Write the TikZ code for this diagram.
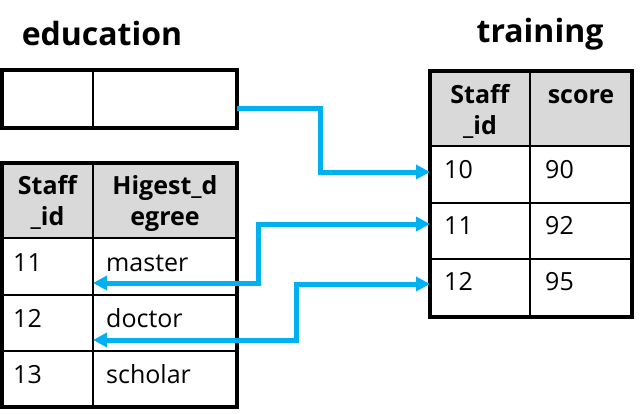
\documentclass[tikz,border=0pt]{standalone}
\usepackage{fontspec}
\setmainfont{Open Sans}
\usetikzlibrary{arrows.meta}
\definecolor{linkblue}{HTML}{00B0F0}
\definecolor{hdrgray}{HTML}{D9D9D9}
\tikzset{
  cell/.style={draw=black, line width=1.5pt, anchor=north west, inner sep=0pt, outer sep=0pt},
  headcell/.style={cell, fill=hdrgray},
  frame/.style={draw=black, line width=4pt},
  link/.style={draw=linkblue, line width=5pt},
  tipa/.style={-{Triangle[length=14pt,width=14pt]}},
  tipb/.style={{Triangle[length=14pt,width=14pt]}-{Triangle[length=14pt,width=14pt]}},
  title/.style={font=\bfseries\fontsize{32}{38}\selectfont, anchor=base, inner sep=0pt},
  hd/.style={font=\bfseries\fontsize{25}{31}\selectfont, align=center, anchor=north, inner sep=0pt},
  hdone/.style={font=\bfseries\fontsize{25}{31}\selectfont, anchor=base, inner sep=0pt},
  bd/.style={font=\fontsize{25}{31}\selectfont, anchor=base west, inner sep=0pt},
}
\begin{document}
\begin{tikzpicture}[x=1pt,y=-1pt]
\useasboundingbox (0,0) rectangle (643,413);
% titles
\node[title] (ttl1) at (102,45) {education};
\node[title] (ttl2) at (540,42) {training};
% education empty table
\node[cell, minimum width=91pt, minimum height=58pt] (ee1) at (2,70) {};
\node[cell, minimum width=144pt, minimum height=58pt] (ee2) at (93,70) {};
\draw[frame] (ee1.north west) rectangle (ee2.south east);
% education table
\node[headcell, minimum width=91pt, minimum height=75pt] (eh1) at (2,163) {};
\node[headcell, minimum width=144pt, minimum height=75pt] (eh2) at (93,163) {};
\node[cell, minimum width=91pt, minimum height=57pt] (e11) at (2,238) {};
\node[cell, minimum width=144pt, minimum height=57pt] (e12) at (93,238) {};
\node[cell, minimum width=91pt, minimum height=56pt] (e21) at (2,295) {};
\node[cell, minimum width=144pt, minimum height=56pt] (e22) at (93,295) {};
\node[cell, minimum width=91pt, minimum height=56pt] (e31) at (2,351) {};
\node[cell, minimum width=144pt, minimum height=56pt] (e32) at (93,351) {};
\draw[frame] (eh1.north west) rectangle (e32.south east);
% training table
\node[headcell, minimum width=100pt, minimum height=75pt] (th1) at (430,71) {};
\node[headcell, minimum width=102pt, minimum height=75pt] (th2) at (530,71) {};
\node[cell, minimum width=100pt, minimum height=57pt] (t11) at (430,146) {};
\node[cell, minimum width=102pt, minimum height=57pt] (t12) at (530,146) {};
\node[cell, minimum width=100pt, minimum height=56pt] (t21) at (430,203) {};
\node[cell, minimum width=102pt, minimum height=56pt] (t22) at (530,203) {};
\node[cell, minimum width=100pt, minimum height=58pt] (t31) at (430,259) {};
\node[cell, minimum width=102pt, minimum height=58pt] (t32) at (530,259) {};
\draw[frame] (th1.north west) rectangle (t32.south east);
% header texts
\node[hd] (eh1t) at (47.5,175) {Staff\\\_id};
\node[hd] (eh2t) at (165,175) {Higest\_d\\egree};
\node[hd] (th1t) at (480,84) {Staff\\\_id};
\node[hdone] (th2t) at (581,103) {score};
% body texts education
\node[bd] (e11t) at (13,271) {11};
\node[bd] (e12t) at (106,271) {master};
\node[bd] (e21t) at (13,327) {12};
\node[bd] (e22t) at (106,327) {doctor};
\node[bd] (e31t) at (13,383) {13};
\node[bd] (e32t) at (106,383) {scholar};
% body texts training
\node[bd] (t11t) at (444,178) {10};
\node[bd] (t12t) at (545,178) {90};
\node[bd] (t21t) at (444,234) {11};
\node[bd] (t22t) at (545,234) {92};
\node[bd] (t31t) at (444,290) {12};
\node[bd] (t32t) at (545,290) {95};
% connectors
\draw[link, tipa] ([yshift=-9pt]ee2.east) -- ++(83,0) |- ([yshift=2.5pt]t11.west);
\draw[link, tipb] ([yshift=-16.5pt]e11.east) -- ++(165,0) |- ([yshift=7pt]t21.west);
\draw[link, tipb] ([yshift=-17pt]e21.east) -- ++(203,0) |- ([yshift=4pt]t31.west);
\end{tikzpicture}
\end{document}
